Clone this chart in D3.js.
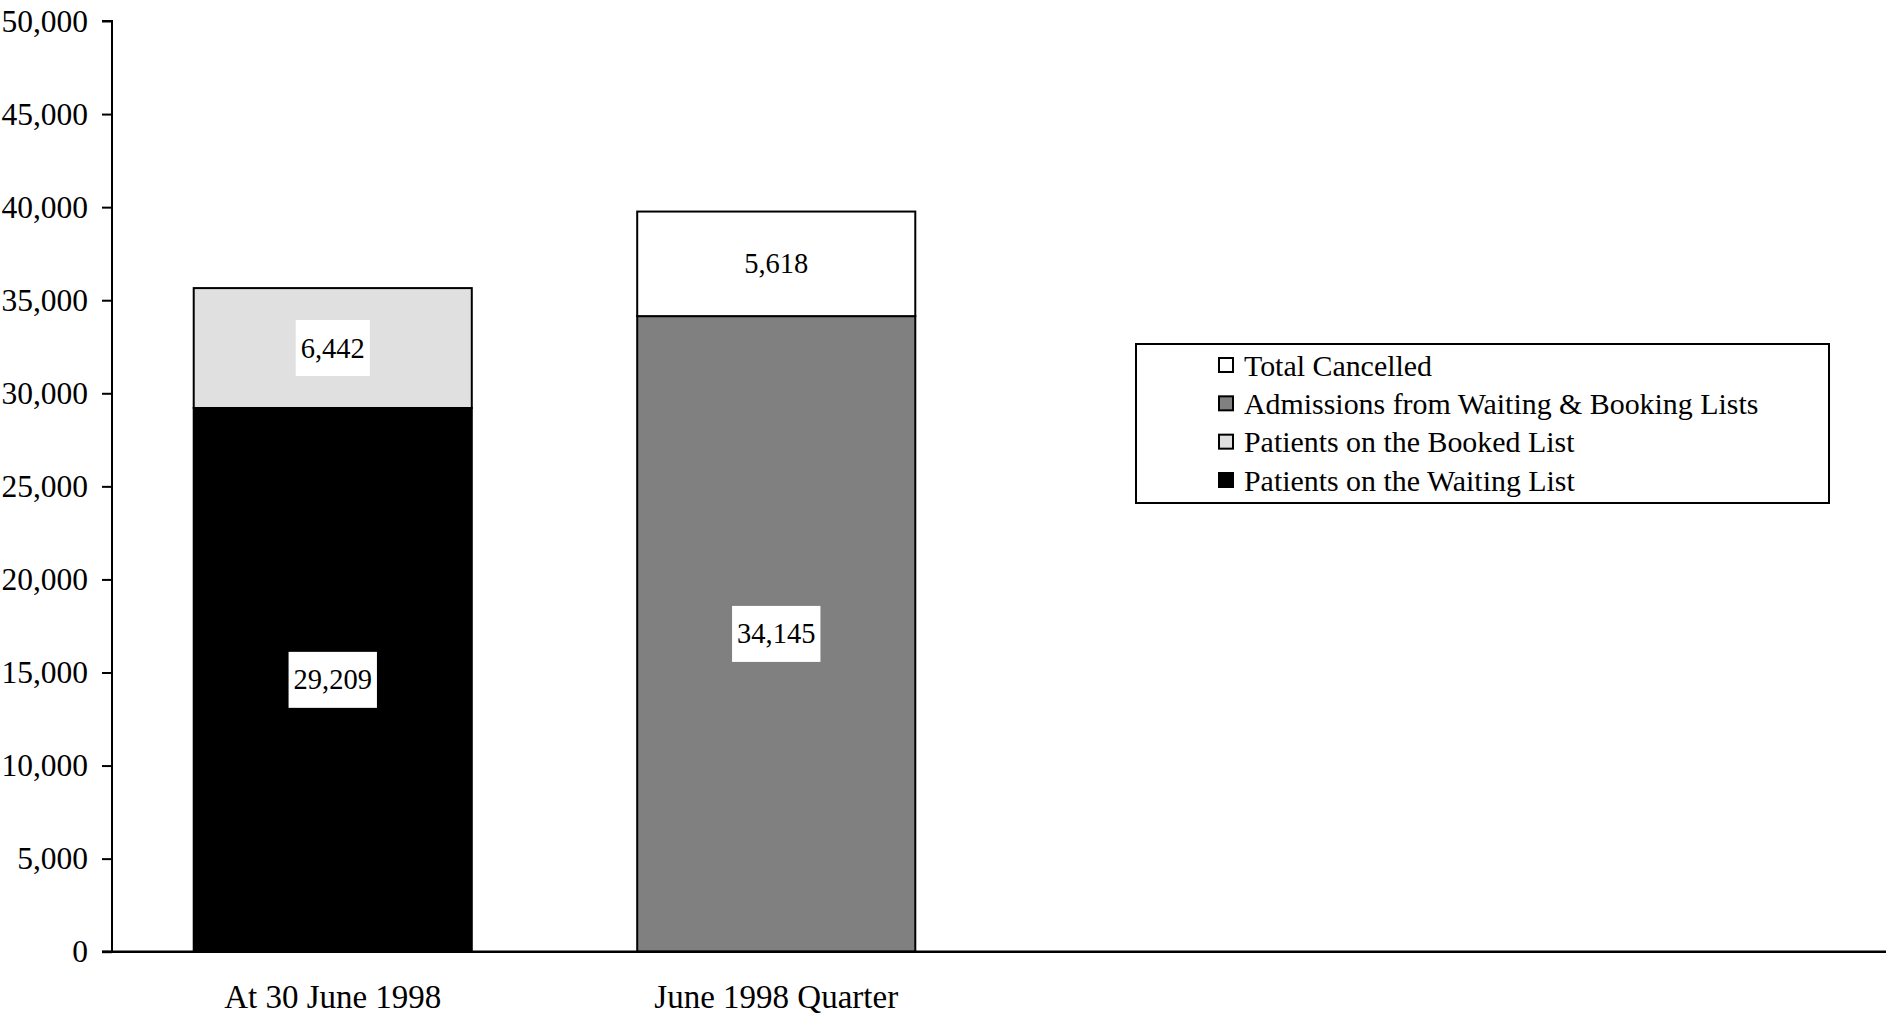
<!DOCTYPE html>
<html>
<head>
<meta charset="utf-8">
<script src="https://cdn.jsdelivr.net/npm/d3@7/dist/d3.min.js"></script>
<style>
  html, body { margin: 0; padding: 0; background: #fff; }
  svg { display: block; font-family: "Liberation Serif", "Times New Roman", serif; }
</style>
</head>
<body>
<svg id="chart" width="1889" height="1024"></svg>
<script>
// Categories along the x axis
const categories = ["At 30 June 1998", "June 1998 Quarter"];

// Series values per category (stacked bottom to top)
const waitingList = [29209, 0];
const bookedList = [6442, 0];
const admissions = [0, 34145];
const totalCancelled = [0, 5618];

// Series names, in stacking order
const seriesNames = [
  "Patients on the Waiting List",
  "Patients on the Booked List",
  "Admissions from Waiting & Booking Lists",
  "Total Cancelled"
];
const seriesFills = ["#000000", "#e0e0e0", "#808080", "#ffffff"];

// Legend lists the series from top of stack down
const legendOrder = [3, 2, 1, 0];

// Y axis tick values
const yTicks = [0, 5000, 10000, 15000, 20000, 25000, 30000, 35000, 40000, 45000, 50000];

const seriesValues = [waitingList, bookedList, admissions, totalCancelled];
const rows = categories.map((c, i) => {
  const r = { category: c };
  seriesNames.forEach((s, k) => { r[s] = seriesValues[k][i]; });
  return r;
});

const svg = d3.select("#chart");
const axisX = 112, plotTop = 21, plotBottom = 951.7, plotRight = 1886;

const y = d3.scaleLinear().domain([0, 50000]).range([plotBottom, plotTop]);
const x = d3.scaleBand().domain(categories)
  .range([axisX - 1, axisX + 886]).paddingInner(0.373).paddingOuter(0.1865);

const stacked = d3.stack().keys(seriesNames)(rows);
const fmt = d3.format(",");

// Bars
const gBars = svg.append("g");
stacked.forEach((layer, k) => {
  layer.forEach((seg, i) => {
    if (seg[1] - seg[0] <= 0) return;
    gBars.append("rect")
      .attr("x", x(categories[i]))
      .attr("y", y(seg[1]))
      .attr("width", x.bandwidth())
      .attr("height", y(seg[0]) - y(seg[1]))
      .attr("fill", seriesFills[k])
      .attr("stroke", "#000")
      .attr("stroke-width", 2);
  });
});

// Value labels in white boxes
const gLabels = svg.append("g");
stacked.forEach((layer, k) => {
  layer.forEach((seg, i) => {
    const v = seg[1] - seg[0];
    if (v <= 0) return;
    const cx = x(categories[i]) + x.bandwidth() / 2;
    const cy = (y(seg[0]) + y(seg[1])) / 2;
    const g = gLabels.append("g");
    const box = g.append("rect").attr("fill", "#fff");
    const t = g.append("text")
      .attr("x", cx).attr("y", cy)
      .attr("text-anchor", "middle")
      .attr("dominant-baseline", "central")
      .attr("font-size", 28.5)
      .attr("fill", "#000")
      .text(fmt(v));
    const bb = t.node().getBBox();
    box.attr("x", bb.x - 5).attr("y", cy - 28)
      .attr("width", bb.width + 10).attr("height", 56);
  });
});

// Y axis
const yAxis = d3.axisLeft(y).tickValues(yTicks).tickFormat(fmt).tickSize(10).tickPadding(14);
const gY = svg.append("g").attr("transform", `translate(${axisX},0)`).call(yAxis);
gY.select(".domain").attr("stroke", "#000").attr("stroke-width", 2)
  .attr("d", `M-10,${plotTop}H0V${plotBottom}H-10`);
gY.selectAll(".tick line").attr("stroke", "#000").attr("stroke-width", 2);
gY.selectAll(".tick text").attr("font-size", 31.5).attr("fill", "#000")
  .attr("font-family", "'Liberation Serif', serif");

// X axis baseline and category labels
svg.append("line")
  .attr("x1", axisX - 10).attr("x2", plotRight)
  .attr("y1", plotBottom).attr("y2", plotBottom)
  .attr("stroke", "#000").attr("stroke-width", 2.5);
svg.append("g").selectAll("text").data(categories).join("text")
  .attr("x", d => x(d) + x.bandwidth() / 2)
  .attr("y", 1008)
  .attr("text-anchor", "middle")
  .attr("font-size", 33)
  .attr("fill", "#000")
  .text(d => d);

// Legend
const legend = svg.append("g");
legend.append("rect")
  .attr("x", 1136).attr("y", 344).attr("width", 693).attr("height", 159)
  .attr("fill", "#fff").attr("stroke", "#000").attr("stroke-width", 2);
const rowY = d3.scalePoint().domain(legendOrder).range([365, 480]);
legendOrder.forEach(k => {
  const cy = rowY(k);
  legend.append("rect")
    .attr("x", 1219).attr("y", cy - 7).attr("width", 14).attr("height", 14)
    .attr("fill", seriesFills[k]).attr("stroke", "#000").attr("stroke-width", 2);
  legend.append("text")
    .attr("x", 1244).attr("y", cy)
    .attr("dominant-baseline", "central")
    .attr("font-size", 29.9)
    .attr("fill", "#000")
    .text(seriesNames[k]);
});
</script>
</body>
</html>
